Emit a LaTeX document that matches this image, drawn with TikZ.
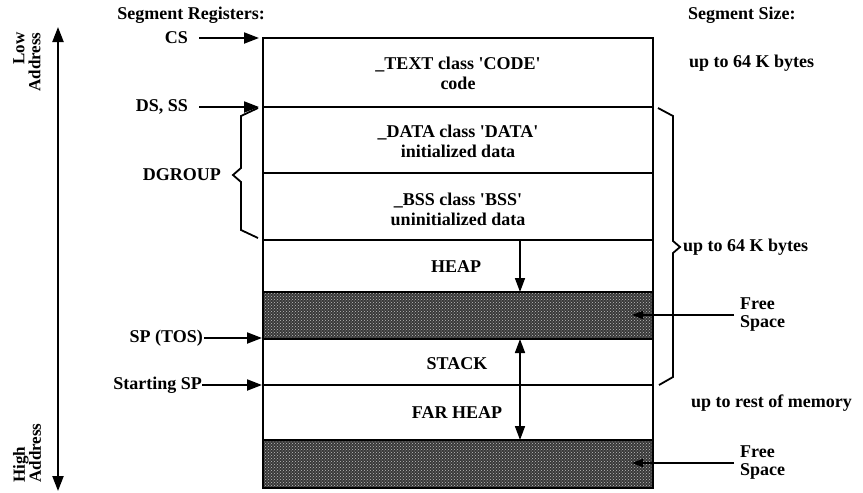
\documentclass[tikz,border=0pt]{standalone}
\usepackage{fontspec}
\setmainfont{Liberation Serif}
\usetikzlibrary{arrows.meta,patterns}
\newcommand{\sq}{\textquotesingle}
\begin{document}
\begin{tikzpicture}[x=1pt,y=-1pt,
  lbl/.style={font=\bfseries\fontsize{18}{18}\selectfont, inner sep=0pt},
  seglbl/.style={font=\bfseries\fontsize{18}{20}\selectfont, align=center, inner sep=0pt},
  ptr/.style={line width=2pt, -{Triangle[length=15pt,width=11pt]}},
  growarrow/.style={line width=1.6pt, -{Triangle[length=14pt,width=10pt]}},
  freearrow/.style={line width=1.4pt, -{Triangle[length=11pt,width=8pt]}},
  boxline/.style={line width=2.2pt},
  divline/.style={line width=1.8pt},
  freefill/.style={fill=black!78, postaction={pattern=crosshatch dots, pattern color=black!25}},
  bracket/.style={line width=1.8pt, line join=miter}]
\useasboundingbox (0,0) rectangle (863,493);

% shaded free space areas
\path[freefill] (263,292) rectangle (653,339);
\path[freefill] (263,440) rectangle (653,488);

% box outline and divisions
\draw[boxline] (263,38) rectangle (653,488);
\foreach \yy in {107,173,240,292,339,385,440}{\draw[divline] (263,\yy) -- (653,\yy);}

% segment labels
\node[seglbl] (text) at (458,73) {\_TEXT class \sq CODE\sq\\code};
\node[seglbl] (data) at (458,141) {\_DATA class \sq DATA\sq\\initialized data};
\node[seglbl] (bss) at (458,209) {\_BSS class \sq BSS\sq\\uninitialized data};
\node[seglbl] (heap) at (456,267) {HEAP};
\node[seglbl] (stack) at (457,364) {STACK};
\node[seglbl] (farheap) at (457,413) {FAR HEAP};

% growth arrows
\coordinate (h0) at (520,240);
\coordinate (h1) at (520,292);
\coordinate (s0) at (520,385);
\coordinate (s1) at (520,339);
\coordinate (f1) at (520,440);
\draw[growarrow] (h0) -- (h1);
\draw[growarrow] (s0) -- (s1);
\draw[growarrow] (s0) -- (f1);

% left labels
\node[lbl, anchor=east] (segreg) at (265,15) {Segment Registers:};
\node[lbl, anchor=east] (cs) at (188,38) {CS};
\node[lbl, anchor=east] (ds) at (188,107) {DS, SS};
\node[lbl, anchor=east] (dgroup) at (221,175) {DGROUP};
\node[lbl, anchor=east] (sp) at (203,338) {SP (TOS)};
\node[lbl, anchor=east] (ssp) at (202,385) {Starting SP};

\coordinate (csT) at (259,38);
\coordinate (dsT) at (259,107);
\coordinate (spT) at (262,338);
\coordinate (sspT) at (262,385);
\draw[ptr] ([xshift=11pt]cs.east) -- (csT);
\draw[ptr] ([xshift=11pt]ds.east) -- (dsT);
\draw[ptr] ([xshift=1pt]sp.east) -- (spT);
\draw[ptr] (ssp.east) -- (sspT);

% DGROUP bracket
\draw[bracket] (258,108) -- (241,116) -- (241,168) -- (233,175) -- (241,182) -- (241,230) -- (258,238);

% address axis
\coordinate (axTop) at (58,27);
\coordinate (axBot) at (58,491);
\draw[line width=2.2pt, {Triangle[length=15pt,width=11pt]}-{Triangle[length=15pt,width=11pt]}] (axTop) -- (axBot);
\node[lbl, rotate=90, align=right, font=\bfseries\fontsize{17}{16}\selectfont] (low) at (27,62) {Low\\Address};
\node[lbl, rotate=90, align=left, font=\bfseries\fontsize{17}{16}\selectfont] (high) at (27,453) {High\\Address};

% right side
\node[lbl, anchor=west] (segsize) at (688,15) {Segment Size:};
\node[lbl, anchor=west] (sz1) at (689,63) {up to 64 K bytes};
\node[lbl, anchor=west] (sz2) at (683,247) {up to 64 K bytes};
\node[lbl, anchor=west] (sz3) at (691,403) {up to rest of memory};
\draw[bracket] (658,108) -- (673,116) -- (673,241) -- (680,247) -- (673,253) -- (673,377) -- (659,385);

\node[lbl, anchor=west, align=left, font=\bfseries\fontsize{18}{18}\selectfont] (free1) at (740,315) {Free\\Space};
\node[lbl, anchor=west, align=left, font=\bfseries\fontsize{18}{18}\selectfont] (free2) at (740,463) {Free\\Space};
\coordinate (fr1T) at (632,315);
\coordinate (fr2T) at (632,463);
\draw[freearrow] ([xshift=-6pt]free1.west) -- (fr1T);
\draw[freearrow] ([xshift=-6pt]free2.west) -- (fr2T);
\end{tikzpicture}
\end{document}
